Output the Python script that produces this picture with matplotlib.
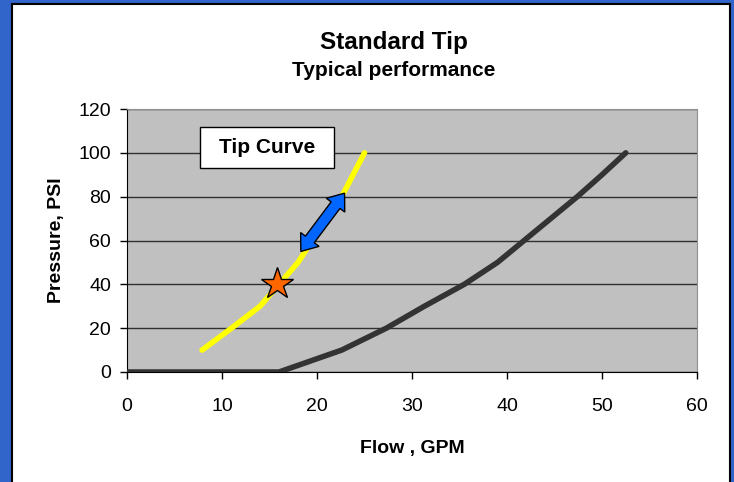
import numpy as np
import matplotlib.pyplot as plt
from matplotlib.patches import Rectangle, Polygon
from matplotlib.transforms import IdentityTransform

plt.rcParams['font.family'] = ['Liberation Sans', 'DejaVu Sans']

# Tip curve (yellow) and system curve (dark gray)
tipFlow = [7.9, 11, 14, 16, 18, 19.5, 21, 22.6, 23.8, 25]
tipPressure = [10, 20, 30, 40, 50, 60, 70, 80, 90, 100]
sysFlow = [0, 16, 22.6, 27.3, 31.3, 35.5, 39, 41.8, 44.6, 47.4, 50, 52.5]
sysPressure = [0, 0, 10, 20, 30, 40, 50, 60, 70, 80, 90, 100]

# Operating point (star) and the range arrow ends
starPoint = (15.8, 40)
arrowStart = (18.3, 55)
arrowEnd = (22.9, 81.6)

xTicks = [0, 10, 20, 30, 40, 50, 60]
yTicks = [0, 20, 40, 60, 80, 100, 120]


def double_arrow(ax, p0, p1, shaft=11, head_w=23, head_l=15, **kw):
    # outline of a two-headed block arrow, built in pixel space
    a = ax.transData.transform(p0)
    b = ax.transData.transform(p1)
    d = (b - a) / np.linalg.norm(b - a)
    n = np.array([-d[1], d[0]])
    pts = [a,
           a + d * head_l + n * head_w / 2,
           a + d * head_l + n * shaft / 2,
           b - d * head_l + n * shaft / 2,
           b - d * head_l + n * head_w / 2,
           b,
           b - d * head_l - n * head_w / 2,
           b - d * head_l - n * shaft / 2,
           a + d * head_l - n * shaft / 2,
           a + d * head_l - n * head_w / 2]
    poly = Polygon(pts, closed=True, transform=IdentityTransform(), **kw)
    ax.add_artist(poly)


W, H = 734, 482
fig = plt.figure(figsize=(W / 100, H / 100), dpi=100, facecolor='#3265C9')

# white panel with black edge
panel = Rectangle((11.5 / W, -0.05), (729.5 - 11.5) / W, 1.05 - 3.5 / H,
                  transform=fig.transFigure, facecolor='white',
                  edgecolor='black', linewidth=1.5, zorder=-1)
fig.patches.append(panel)

ax = fig.add_axes([127 / W, 1 - 372 / H, (697 - 127) / W, (372 - 109) / H])
ax.set_facecolor('#C0C0C0')
ax.set_xlim(0, 60)
ax.set_ylim(0, 120)
ax.set_xticks(xTicks)
ax.set_yticks(yTicks)
ax.tick_params(labelsize=14, direction='out', length=5, width=1)
ax.tick_params(axis='x', pad=14)
ax.tick_params(axis='y', pad=6.5)
ax.yaxis.grid(True, color='#303030', linewidth=1)
ax.set_axisbelow(True)
for s in ['top', 'right']:
    ax.spines[s].set_color('#909090')
for s in ['left', 'bottom']:
    ax.spines[s].set_color('black')

ax.plot(sysFlow, sysPressure, color='#333333', linewidth=4, solid_capstyle='round', zorder=3)
ax.plot(tipFlow, tipPressure, color='#FFFF00', linewidth=4, solid_capstyle='round', zorder=3)

double_arrow(ax, arrowStart, arrowEnd, facecolor='#0066FF', edgecolor='black',
             linewidth=1, zorder=5)

ax.plot(*starPoint, marker='*', markersize=24, markerfacecolor='#FF6600',
        markeredgecolor='black', markeredgewidth=1, zorder=6)

ax.add_patch(Rectangle((7.7, 93), 14.1, 18.9, facecolor='white', edgecolor='black',
                       linewidth=1, zorder=7))
ax.text(14.75, 102.6, 'Tip Curve', fontsize=15, fontweight='bold', ha='center',
        va='center', zorder=8)

ax.set_xlabel('Flow , GPM', fontsize=14, fontweight='bold', labelpad=18)
ax.set_ylabel('Pressure, PSI', fontsize=14, fontweight='bold', labelpad=10)

fig.text(394 / W, 1 - 42 / H, 'Standard Tip', fontsize=17.5, fontweight='bold',
         ha='center', va='center')
fig.text(394 / W, 1 - 71 / H, 'Typical performance', fontsize=15, fontweight='bold',
         ha='center', va='center')

fig.savefig('out.png', dpi=100, facecolor=fig.get_facecolor())
